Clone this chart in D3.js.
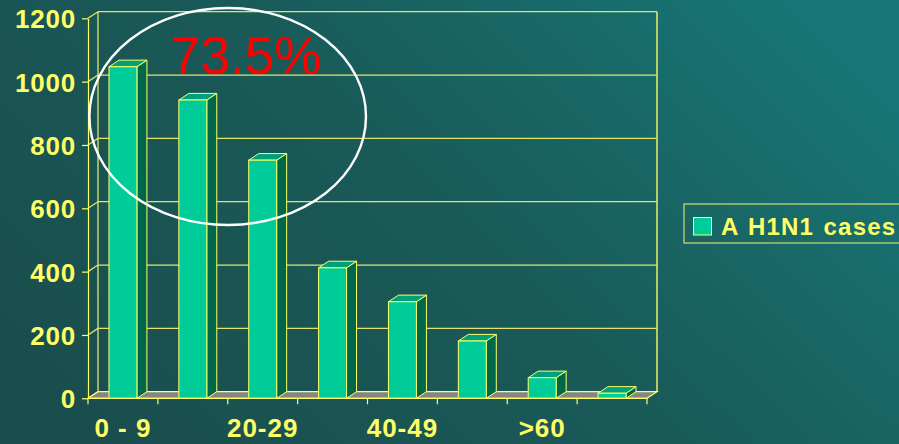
<!DOCTYPE html>
<html>
<head>
<meta charset="utf-8">
<script src="https://cdn.jsdelivr.net/npm/d3@7"></script>
<style>
  html, body { margin: 0; padding: 0; background: #1a5252; }
  svg { display: block; }
  text { font-family: "Liberation Sans", Arial, sans-serif; }
</style>
</head>
<body>
<script>
// Age groups and confirmed A H1N1 cases
const categories = ["0 - 9", "10-19", "20-29", "30-39", "40-49", "50-59", ">60", "Unknown"];
const cases = [1047, 942, 752, 412, 305, 181, 65, 16];
const yTicks = [0, 200, 400, 600, 800, 1000, 1200];
const seriesName = "A H1N1 cases";
const highlightLabel = "73.5%";

const W = 899, H = 444;
const DX = 10, DY = -6.6;          // depth offset of the 3D box
const yellow = "#ffff66";
const gridCol = "#e2e56a";

const svg = d3.select("body").append("svg").attr("width", W).attr("height", H);

// backdrop gradient
const defs = svg.append("defs");
const grad = defs.append("linearGradient").attr("id", "bg")
  .attr("x1", "0").attr("y1", "0.75").attr("x2", "1").attr("y2", "0.25");
grad.append("stop").attr("offset", "0").attr("stop-color", "#1a4e4e");
grad.append("stop").attr("offset", "0.5").attr("stop-color", "#195a58");
grad.append("stop").attr("offset", "1").attr("stop-color", "#177575");
svg.append("rect").attr("width", W).attr("height", H).attr("fill", "url(#bg)");

const x = d3.scaleBand().domain(categories).range([88, 647]).padding(0);
const y = d3.scaleLinear().domain([0, 1200]).range([398.3, 18.3]);
const bw = x.bandwidth();
const barW = bw * 0.4;

// highlight text (sits behind the chart)
svg.append("text")
  .attr("x", 171).attr("y", 74)
  .attr("fill", "#ff0000")
  .attr("font-size", 53)
  .text(highlightLabel);

const plot = svg.append("g");
const x0 = x.range()[0], x1 = x.range()[1];

// back-wall gridlines and left-wall diagonals
yTicks.forEach(v => {
  plot.append("line")
    .attr("x1", x0 + DX).attr("x2", x1 + DX)
    .attr("y1", y(v) + DY).attr("y2", y(v) + DY)
    .attr("stroke", gridCol).attr("stroke-width", 1.3);
  plot.append("line")
    .attr("x1", x0).attr("y1", y(v))
    .attr("x2", x0 + DX).attr("y2", y(v) + DY)
    .attr("stroke", gridCol).attr("stroke-width", 1.3);
});
// wall edges
plot.append("line")
  .attr("x1", x0 + DX).attr("x2", x0 + DX)
  .attr("y1", y(1200) + DY).attr("y2", y(0) + DY)
  .attr("stroke", gridCol).attr("stroke-width", 1.3);
plot.append("line")
  .attr("x1", x1 + DX).attr("x2", x1 + DX)
  .attr("y1", y(1200) + DY).attr("y2", y(0) + DY)
  .attr("stroke", gridCol).attr("stroke-width", 1.6);

// floor
plot.append("path")
  .attr("d", `M${x0},${y(0)}L${x1},${y(0)}L${x1 + DX},${y(0) + DY}L${x0 + DX},${y(0) + DY}Z`)
  .attr("fill", "#858585").attr("stroke", yellow).attr("stroke-width", 1.2);

// 3D bars
const bars = plot.selectAll("g.bar")
  .data(categories.map((c, i) => ({ c, v: cases[i] })))
  .join("g").attr("class", "bar");

bars.each(function(d) {
  const g = d3.select(this);
  const left = x(d.c) + (bw - barW) / 2;
  const right = left + barW;
  const top = y(d.v), base = y(0);
  // side face
  g.append("path")
    .attr("d", `M${right},${base}L${right + DX},${base + DY}L${right + DX},${top + DY}L${right},${top}Z`)
    .attr("fill", "#00684a").attr("stroke", yellow).attr("stroke-width", 1).attr("stroke-linejoin", "round");
  // top face
  g.append("path")
    .attr("d", `M${left},${top}L${left + DX},${top + DY}L${right + DX},${top + DY}L${right},${top}Z`)
    .attr("fill", "#00a07a").attr("stroke", yellow).attr("stroke-width", 1).attr("stroke-linejoin", "round");
  // front face
  g.append("rect")
    .attr("x", left).attr("y", top)
    .attr("width", barW).attr("height", base - top)
    .attr("fill", "#00cc99").attr("stroke", yellow).attr("stroke-width", 1);
});

// value axis
const yAxis = svg.append("g")
  .attr("transform", `translate(${x0},0)`)
  .call(d3.axisLeft(y).tickValues(yTicks).tickFormat(d3.format("d"))
    .tickSize(6).tickPadding(6).tickSizeOuter(0));
yAxis.select(".domain").attr("stroke", yellow).attr("stroke-width", 1.2);
yAxis.selectAll(".tick line").attr("stroke", yellow).attr("stroke-width", 1.2);
yAxis.selectAll(".tick text")
  .attr("fill", yellow).attr("font-size", 26).attr("font-weight", "bold")
  .attr("font-family", "Liberation Sans, Arial, sans-serif")
  .attr("letter-spacing", 0.8)
  .attr("dy", "0.36em");

// category axis
const xAxis = svg.append("g");
xAxis.append("line")
  .attr("x1", x0).attr("x2", x1).attr("y1", y(0)).attr("y2", y(0))
  .attr("stroke", yellow).attr("stroke-width", 1.2);
const boundaries = categories.map(c => x(c)).concat([x1]);
xAxis.selectAll("line.tick").data(boundaries).join("line").attr("class", "tick")
  .attr("x1", d => d).attr("x2", d => d)
  .attr("y1", y(0)).attr("y2", y(0) + 6)
  .attr("stroke", yellow).attr("stroke-width", 1.2);
xAxis.selectAll("text").data(categories.filter((c, i) => i % 2 === 0)).join("text")
  .attr("x", d => x(d) + bw / 2)
  .attr("y", 437)
  .attr("text-anchor", "middle")
  .attr("fill", yellow).attr("font-size", 26).attr("font-weight", "bold")
  .attr("letter-spacing", 1)
  .text(d => d);

// highlight ellipse
svg.append("ellipse")
  .attr("cx", 227.7).attr("cy", 116.5).attr("rx", 138.3).attr("ry", 108.5)
  .attr("fill", "none").attr("stroke", "#ffffff").attr("stroke-width", 2.4);

// legend
const legend = svg.append("g");
legend.append("rect")
  .attr("x", 684).attr("y", 204).attr("width", 240).attr("height", 39)
  .attr("fill", "none").attr("stroke", "#d8dc6a").attr("stroke-width", 1.2);
legend.append("rect")
  .attr("x", 693.5).attr("y", 217.5).attr("width", 18).attr("height", 17.5)
  .attr("fill", "#00cc99").attr("stroke", yellow).attr("stroke-width", 1);
legend.append("text")
  .attr("x", 721).attr("y", 235)
  .attr("fill", yellow).attr("font-size", 24).attr("font-weight", "bold")
  .attr("letter-spacing", 1.2)
  .attr("word-spacing", 1.5)
  .text(seriesName);
</script>
</body>
</html>
